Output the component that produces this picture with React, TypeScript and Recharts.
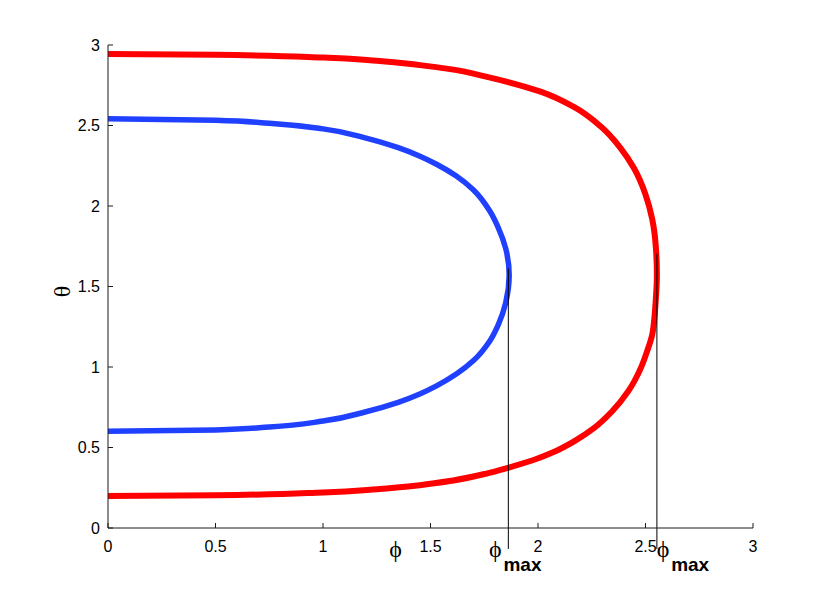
import React from 'react';
import { LineChart, Line, XAxis, YAxis, ReferenceLine, ReferenceDot } from 'recharts';

const axisTicks = [0, 0.5, 1, 1.5, 2, 2.5, 3];

const redPhi = [
  0, 0.5, 1.0, 1.25, 1.45, 1.6, 1.76, 1.86, 1.995, 2.07, 2.17, 2.26, 2.345, 2.42, 2.477, 2.508, 2.531, 2.541, 2.547, 2.553,
  2.548, 2.541, 2.531, 2.5, 2.446, 2.384, 2.291, 2.167, 2.012, 1.763, 1.607, 1.451, 1.25, 1.0, 0.5, 0,
];
const redTheta = [
  0.199, 0.203, 0.221, 0.241, 0.266, 0.294, 0.338, 0.374, 0.43, 0.47, 0.54, 0.62, 0.725, 0.85, 0.99, 1.1, 1.2, 1.3, 1.4, 1.571,
  1.745, 1.84, 1.92, 2.072, 2.236, 2.36, 2.495, 2.615, 2.71, 2.802, 2.847, 2.875, 2.902, 2.922, 2.939, 2.944,
];

const bluePhi = [
  0, 0.5, 0.75, 1.0, 1.2, 1.35, 1.45, 1.53, 1.62, 1.7, 1.775, 1.815, 1.85, 1.866,
  1.85, 1.815, 1.775, 1.7, 1.62, 1.528, 1.451, 1.35, 1.2, 1.0, 0.75, 0.5, 0,
];
const blueTheta = [
  0.601, 0.609, 0.627, 0.664, 0.722, 0.78, 0.832, 0.884, 0.956, 1.04, 1.16, 1.262, 1.4, 1.571,
  1.735, 1.866, 1.97, 2.099, 2.186, 2.259, 2.309, 2.362, 2.422, 2.479, 2.514, 2.533, 2.542,
];

const phiMax = [1.862, 2.553];
const phiMaxTop = [1.613, 1.704];
const markerBottom = -0.13;
const phiMaxLabelPhi = [1.802, 2.582];
const phiLabelPhi = 1.337;

const redData = redPhi.map((p, i) => ({ phi: p, theta: redTheta[i] }));
const blueData = bluePhi.map((p, i) => ({ phi: p, theta: blueTheta[i] }));

const AX = '#1a1a1a';
const tickFont = { fontFamily: 'Liberation Sans, Arial, sans-serif', fontSize: 16, fill: '#000' };

const PhiLabel = (props: any) => {
  const vb = props.viewBox || {};
  const x = vb.x + (vb.width || 0) / 2;
  const y = vb.y + (vb.height || 0) / 2;
  return (
    <text x={x} y={y + 8} textAnchor="middle" fontFamily="Liberation Serif, serif" fontSize={24} fill="#000">
      ϕ
    </text>
  );
};

const PhiMaxLabel = (props: any) => {
  const vb = props.viewBox || {};
  const x = vb.x + (vb.width || 0) / 2;
  const y = vb.y + (vb.height || 0) / 2;
  return (
    <g>
      <text x={x} y={y + 8} textAnchor="middle" fontFamily="Liberation Serif, serif" fontSize={24} fill="#000">
        ϕ
      </text>
      <text x={x + 8} y={y + 22.5} fontFamily="Liberation Sans, Arial, sans-serif" fontWeight="bold" fontSize={19} fill="#000">
        max
      </text>
    </g>
  );
};

const ThetaLabel = (props: any) => {
  const vb = props.viewBox || {};
  const cx = vb.x + 14;
  const cy = vb.y + vb.height / 2 + 5;
  return (
    <text
      x={cx}
      y={cy}
      textAnchor="middle"
      dominantBaseline="central"
      transform={`rotate(-90, ${cx}, ${cy})`}
      fontFamily="Liberation Serif, serif"
      fontSize={24}
      fill="#000"
    >
      θ
    </text>
  );
};

export default function App() {
  return (
    <div style={{ position: 'absolute', left: 0, top: 0, width: 830, height: 594, background: '#fff' }}>
      <LineChart width={830} height={594} margin={{ top: 45, right: 77, bottom: 36, left: 48 }}>
        <XAxis
          xAxisId="main"
          dataKey="phi"
          type="number"
          domain={[0, 3]}
          ticks={axisTicks}
          allowDataOverflow
          height={30}
          tickSize={-5}
          tickMargin={18}
          axisLine={{ stroke: AX }}
          tickLine={{ stroke: AX }}
          tick={tickFont}
          interval={0}
        />
        <XAxis
          xAxisId="top"
          orientation="top"
          type="number"
          domain={[0, 3]}
          ticks={axisTicks}
          allowDataOverflow
          height={0}
          tickSize={-5}
          tick={false}
          axisLine={{ stroke: AX }}
          tickLine={{ stroke: AX }}
          interval={0}
        />
        <YAxis
          yAxisId="main"
          type="number"
          domain={[0, 3]}
          ticks={axisTicks}
          allowDataOverflow
          width={60}
          tickSize={-5}
          tickMargin={13}
          axisLine={{ stroke: AX }}
          tickLine={{ stroke: AX }}
          tick={tickFont}
          interval={0}
          label={<ThetaLabel />}
        />
        <YAxis
          yAxisId="right"
          orientation="right"
          type="number"
          domain={[0, 3]}
          ticks={axisTicks}
          allowDataOverflow
          width={0}
          tickSize={-5}
          tick={false}
          axisLine={{ stroke: AX }}
          tickLine={{ stroke: AX }}
          interval={0}
        />
        <Line
          xAxisId="main"
          yAxisId="main"
          data={redData}
          dataKey="theta"
          type="monotoneY"
          stroke="#ff0000"
          strokeWidth={6}
          dot={false}
          activeDot={false}
          isAnimationActive={false}
        />
        <Line
          xAxisId="main"
          yAxisId="main"
          data={blueData}
          dataKey="theta"
          type="monotoneY"
          stroke="#2040ff"
          strokeWidth={5.5}
          dot={false}
          activeDot={false}
          isAnimationActive={false}
        />
        {phiMax.map((p, i) => (
          <ReferenceLine
            key={'pm' + i}
            xAxisId="main"
            yAxisId="main"
            segment={[
              { x: p, y: phiMaxTop[i] },
              { x: p, y: markerBottom },
            ]}
            stroke="#000"
            strokeWidth={1}
            ifOverflow="visible"
          />
        ))}
        <ReferenceDot
          xAxisId="main"
          yAxisId="main"
          x={phiLabelPhi}
          y={markerBottom}
          r={0}
          fill="none"
          stroke="none"
          ifOverflow="visible"
          label={<PhiLabel />}
        />
        {phiMaxLabelPhi.map((p, i) => (
          <ReferenceDot
            key={'pl' + i}
            xAxisId="main"
            yAxisId="main"
            x={p}
            y={markerBottom}
            r={0}
            fill="none"
            stroke="none"
            ifOverflow="visible"
            label={<PhiMaxLabel />}
          />
        ))}
      </LineChart>
    </div>
  );
}
